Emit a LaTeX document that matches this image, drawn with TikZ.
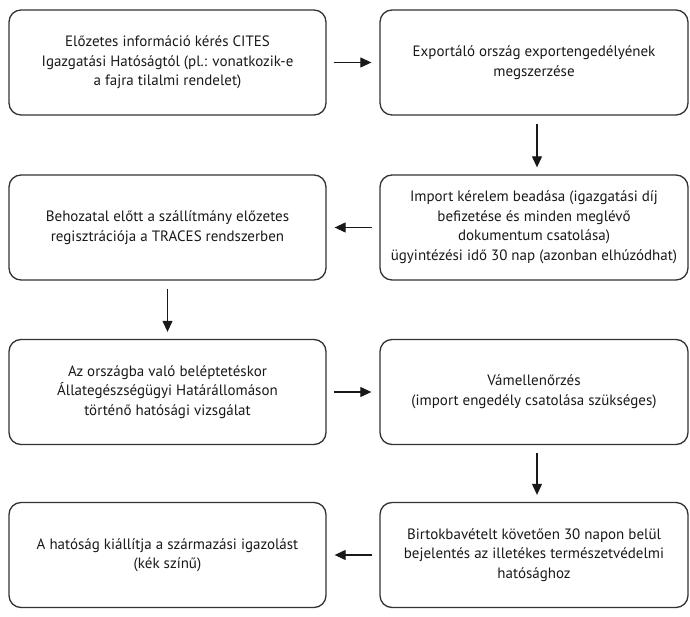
\documentclass[tikz,border=0pt]{standalone}
\usepackage{fontspec}
\setmainfont{PT Sans}
\usetikzlibrary{arrows.meta}
\begin{document}
\begin{tikzpicture}[x=1pt,y=1pt,
  stepbox/.style={draw=black!80, line width=1.3pt, rounded corners=12pt, align=center,
    minimum height=105pt, inner sep=0pt, font=\fontsize{15}{19.5}\selectfont, text=black!90},
  lbox/.style={stepbox, minimum width=317pt},
  rbox/.style={stepbox, minimum width=308pt},
  conn/.style={draw=black!90, line width=1.1pt, -{Triangle[length=11pt,width=10pt]}},
  hconn/.style={conn, shorten <=7pt, shorten >=8pt},
  vconn/.style={conn, shorten <=8pt, shorten >=7pt}]
\useasboundingbox (0,0) rectangle (690,616);
\node[lbox] (b1) at (167.5,553.5) {Előzetes információ kérés CITES\\Igazgatási Hatóságtól (pl.: vonatkozik-e\\a fajra tilalmi rendelet)};
\node[rbox] (b2) at (534,553.5) {Exportáló ország exportengedélyének\\megszerzése};
\node[lbox] (b3) at (167.5,388.5) {Behozatal előtt a szállítmány előzetes\\regisztrációja a TRACES rendszerben};
\node[rbox] (b4) at (534,388.5) {Import kérelem beadása (igazgatási díj\\befizetése és minden meglévő\\dokumentum csatolása)\\ügyintézési idő 30 nap (azonban elhúzódhat)};
\node[lbox] (b5) at (167.5,224) {Az országba való beléptetéskor\\Állategészségügyi Határállomáson\\történő hatósági vizsgálat};
\node[rbox] (b6) at (534,224) {Vámellenőrzés\\(import engedély csatolása szükséges)};
\node[lbox] (b7) at (167.5,61) {A hatóság kiállítja a származási igazolást\\(kék színű)};
\node[rbox] (b8) at (534,61) {Birtokbavételt követően 30 napon belül\\bejelentés az illetékes természetvédelmi\\hatósághoz};
\draw[hconn] (b1.east) -- (b2.west);
\draw[vconn] ([xshift=3pt]b2.south) -- ([xshift=3pt]b4.north);
\draw[hconn] (b4.west) -- (b3.east);
\draw[vconn] (b3.south) -- (b5.north);
\draw[hconn] (b5.east) -- (b6.west);
\draw[vconn] ([xshift=3pt]b6.south) -- ([xshift=3pt]b8.north);
\draw[hconn] (b8.west) -- (b7.east);
\end{tikzpicture}
\end{document}
